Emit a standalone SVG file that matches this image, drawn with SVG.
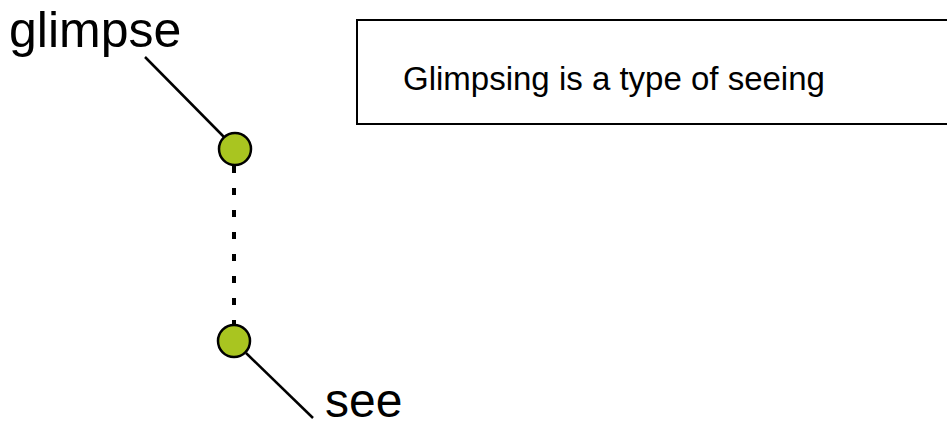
<svg xmlns="http://www.w3.org/2000/svg" width="947" height="426" viewBox="0 0 947 426">
  <style>
    .lbl { font-family: "Liberation Sans", Arial, sans-serif; fill: #000; }
    .word { font-size: 50px; }
    .word-sm { font-size: 48px; }
    .note { font-size: 33px; }
    .pt { fill: #a9c520; stroke: #000; stroke-width: 2.5; }
    .lead { stroke: #000; stroke-width: 2.5; fill: none; }
    .dash { stroke: #000; stroke-width: 4; stroke-dasharray: 7 15; fill: none; }
  </style>
  <rect width="947" height="426" fill="#fff"/>

  <!-- connectors -->
  <g id="connectors">
    <line class="lead" x1="145" y1="57" x2="224" y2="137"/>
    <line class="dash" x1="234" y1="166" x2="234" y2="324"/>
    <line class="lead" x1="246" y1="353" x2="313" y2="418"/>
  </g>

  <!-- nodes -->
  <g id="node-glimpse">
    <text class="lbl word" x="9" y="47">glimpse</text>
    <circle class="pt" cx="235" cy="149" r="16"/>
  </g>
  <g id="node-see">
    <circle class="pt" cx="234" cy="341" r="16"/>
    <text class="lbl word-sm" x="325" y="417">see</text>
  </g>
  <g id="note">
    <rect x="357" y="20" width="600" height="104" fill="#fff" stroke="#000" stroke-width="2"/>
    <text class="lbl note" x="403" y="90">Glimpsing is a type of seeing</text>
  </g>
</svg>
